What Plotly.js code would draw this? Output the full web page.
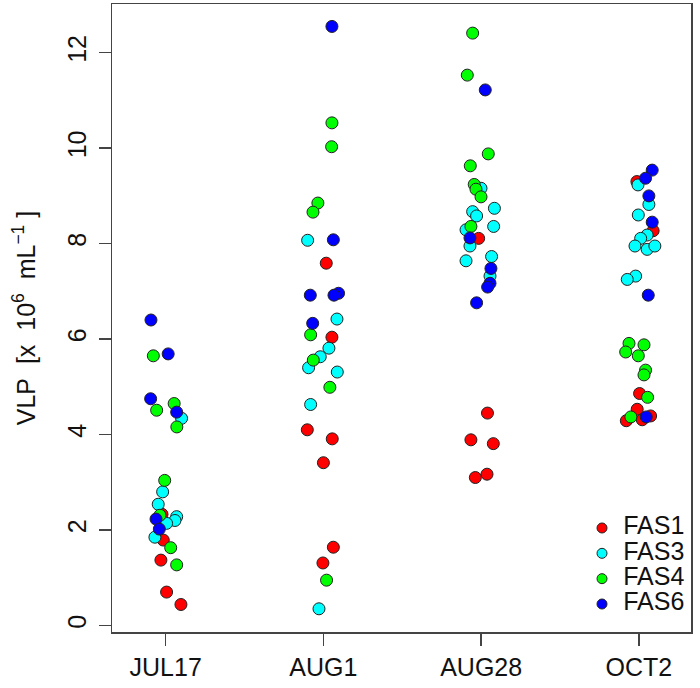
<!DOCTYPE html>
<html><head><meta charset="utf-8">
<script src="https://cdn.plot.ly/plotly-3.0.1.min.js"></script>
<style>body{margin:0;padding:0;background:#fff}#chart{width:700px;height:688px}</style>
</head><body><div id="chart"></div>
<script>
var categories = ["JUL17", "AUG1", "AUG28", "OCT2"];
var seriesNames = ["FAS1", "FAS3", "FAS4", "FAS6"];
var seriesColors = ["#ff0000", "#00ffff", "#00ff00", "#0000ff"];

// FAS1
var fas1Date = ["JUL17","JUL17","JUL17","JUL17","JUL17",
  "AUG1","AUG1","AUG1","AUG1","AUG1","AUG1","AUG1",
  "AUG28","AUG28","AUG28","AUG28","AUG28","AUG28",
  "OCT2","OCT2","OCT2","OCT2","OCT2","OCT2","OCT2"];
var fas1Jitter = [-0.015,-0.030,0.006,0.097,-0.023,
  0.018,0.054,-0.102,0.056,0.000,0.063,-0.003,
  -0.016,0.040,-0.065,0.077,0.037,-0.037,
  -0.013,0.090,0.004,-0.011,-0.080,0.021,0.074];
var fas1Value = [1.79,1.37,0.70,0.44,2.33,
  7.59,6.04,4.10,3.91,3.41,1.64,1.31,
  8.11,4.45,3.89,3.81,3.17,3.10,
  9.30,8.27,4.86,4.53,4.29,4.31,4.39];

// FAS3
var fas3Date = ["JUL17","JUL17","JUL17","JUL17","JUL17","JUL17","JUL17",
  "AUG1","AUG1","AUG1","AUG1","AUG1","AUG1","AUG1","AUG1",
  "AUG28","AUG28","AUG28","AUG28","AUG28","AUG28","AUG28","AUG28","AUG28","AUG28",
  "OCT2","OCT2","OCT2","OCT2","OCT2","OCT2","OCT2","OCT2","OCT2","OCT2"];
var fas3Jitter = [0.101,-0.019,-0.047,0.070,0.059,0.006,-0.068,
  -0.100,0.086,0.035,-0.020,-0.094,0.088,-0.081,-0.028,
  -0.001,0.084,-0.054,-0.029,0.079,-0.096,-0.071,-0.096,0.066,0.056,
  -0.006,0.063,-0.004,0.052,0.011,-0.025,0.052,0.101,-0.021,-0.074];
var fas3Value = [4.34,2.80,2.54,2.28,2.20,2.14,1.85,
  8.07,6.42,5.81,5.63,5.40,5.31,4.63,0.35,
  9.16,8.74,8.67,8.58,8.36,8.29,7.95,7.64,7.73,7.32,
  9.23,8.82,8.60,8.18,8.11,7.95,7.88,7.95,7.32,7.25];

// FAS4
var fas4Date = ["JUL17","JUL17","JUL17","JUL17","JUL17","JUL17","JUL17","JUL17",
  "AUG1","AUG1","AUG1","AUG1","AUG1","AUG1","AUG1","AUG1",
  "AUG28","AUG28","AUG28","AUG28","AUG28","AUG28","AUG28","AUG28",
  "OCT2","OCT2","OCT2","OCT2","OCT2","OCT2","OCT2","OCT2"];
var fas4Jitter = [-0.078,-0.057,0.054,0.071,-0.006,-0.036,0.032,0.070,
  0.054,0.052,-0.035,-0.066,-0.081,-0.064,0.041,0.020,
  -0.054,-0.088,0.045,-0.069,-0.044,-0.033,-0.001,-0.065,
  -0.063,0.032,-0.084,-0.004,0.042,0.032,0.055,-0.051];
var fas4Value = [5.65,4.51,4.65,4.16,3.04,2.31,1.63,1.27,
  10.53,10.03,8.85,8.66,6.09,5.56,4.99,0.95,
  12.41,11.53,9.88,9.63,9.24,9.14,8.98,8.36,
  5.91,5.88,5.73,5.65,5.35,5.25,4.78,4.37];

// FAS6
var fas6Date = ["JUL17","JUL17","JUL17","JUL17","JUL17","JUL17",
  "AUG1","AUG1","AUG1","AUG1","AUG1","AUG1",
  "AUG28","AUG28","AUG28","AUG28","AUG28","AUG28",
  "OCT2","OCT2","OCT2","OCT2","OCT2","OCT2"];
var fas6Jitter = [-0.093,0.016,-0.095,0.070,-0.061,-0.040,
  0.054,0.063,-0.083,0.096,0.067,-0.068,
  0.026,-0.071,0.062,0.056,0.041,-0.029,
  0.084,0.042,0.063,0.084,0.059,0.046];
var fas6Value = [6.40,5.69,4.75,4.47,2.23,2.02,
  12.55,8.08,6.92,6.96,6.92,6.33,
  11.22,8.12,7.48,7.17,7.09,6.76,
  9.54,9.37,9.00,8.45,6.92,4.37];

var yTicks = [0, 2, 4, 6, 8, 10, 12];

var allDates = [fas1Date, fas3Date, fas4Date, fas6Date];
var allJit = [fas1Jitter, fas3Jitter, fas4Jitter, fas6Jitter];
var allVal = [fas1Value, fas3Value, fas4Value, fas6Value];

var FONT = "Liberation Sans, Arial, sans-serif";
var traces = seriesNames.map(function(name, i) {
  return {
    type: "scatter", mode: "markers", name: name, showlegend: false,
    x: allDates[i].map(function(d, k) { return categories.indexOf(d) + 1 + allJit[i][k]; }),
    y: allVal[i],
    marker: {size: 12, color: seriesColors[i], line: {color: "#222", width: 1}},
    hoverinfo: "skip"
  };
});

// Legend key, drawn on its own hidden category axis in the lower-right corner
traces.push({
  type: "scatter", mode: "markers+text", showlegend: false, hoverinfo: "skip",
  xaxis: "x2", yaxis: "y2", cliponaxis: false,
  x: seriesNames.map(function() { return 0; }),
  y: seriesNames,
  text: seriesNames.map(function(s) { return "\u00a0\u00a0" + s; }),
  textposition: "middle right",
  textfont: {family: FONT, size: 25, color: "#111"},
  marker: {size: 10, color: seriesColors, line: {color: "#222", width: 1}}
});

var axisLine = "#444";
var layout = {
  width: 700, height: 688,
  margin: {l: 112, r: 9, t: 4, b: 56},
  paper_bgcolor: "#fff", plot_bgcolor: "#fff",
  font: {family: FONT, size: 25, color: "#111"},
  showlegend: false,
  xaxis: {
    range: [0.66, 4.33], tickmode: "array", tickvals: [1, 2, 3, 4], ticktext: categories,
    showgrid: false, zeroline: false, showline: true, mirror: true,
    linecolor: axisLine, linewidth: 1.5,
    ticks: "outside", ticklen: 12, tickwidth: 1.5, tickcolor: axisLine,
    tickfont: {family: FONT, size: 25, color: "#111"}
  },
  yaxis: {
    range: [-0.136, 13.02], tickmode: "array", tickvals: yTicks,
    showgrid: false, zeroline: false, showline: true, mirror: true,
    linecolor: axisLine, linewidth: 1.5,
    ticks: "outside", ticklen: 12, tickwidth: 1.5, tickcolor: axisLine,
    tickangle: -90, ticklabelstandoff: 3,
    tickfont: {family: FONT, size: 25, color: "#111"},
    title: {text: "VLP\u00a0 [x\u00a0\u00a010<sup>6</sup>\u00a0\u00a0mL<sup>\u22121</sup>\u00a0]", font: {family: FONT, size: 25, color: "#111"}, standoff: 20}
  },
  xaxis2: {domain: [0.8463, 1], range: [0, 1], visible: false, fixedrange: true, anchor: "y2"},
  yaxis2: {domain: [0.0244, 0.1858], type: "category", categoryorder: "array",
    categoryarray: seriesNames.slice().reverse(), range: [-0.5, 3.5], visible: false, fixedrange: true, anchor: "x2"}
};

Plotly.newPlot("chart", traces, layout, {displayModeBar: false, staticPlot: true});
</script>
</body></html>
